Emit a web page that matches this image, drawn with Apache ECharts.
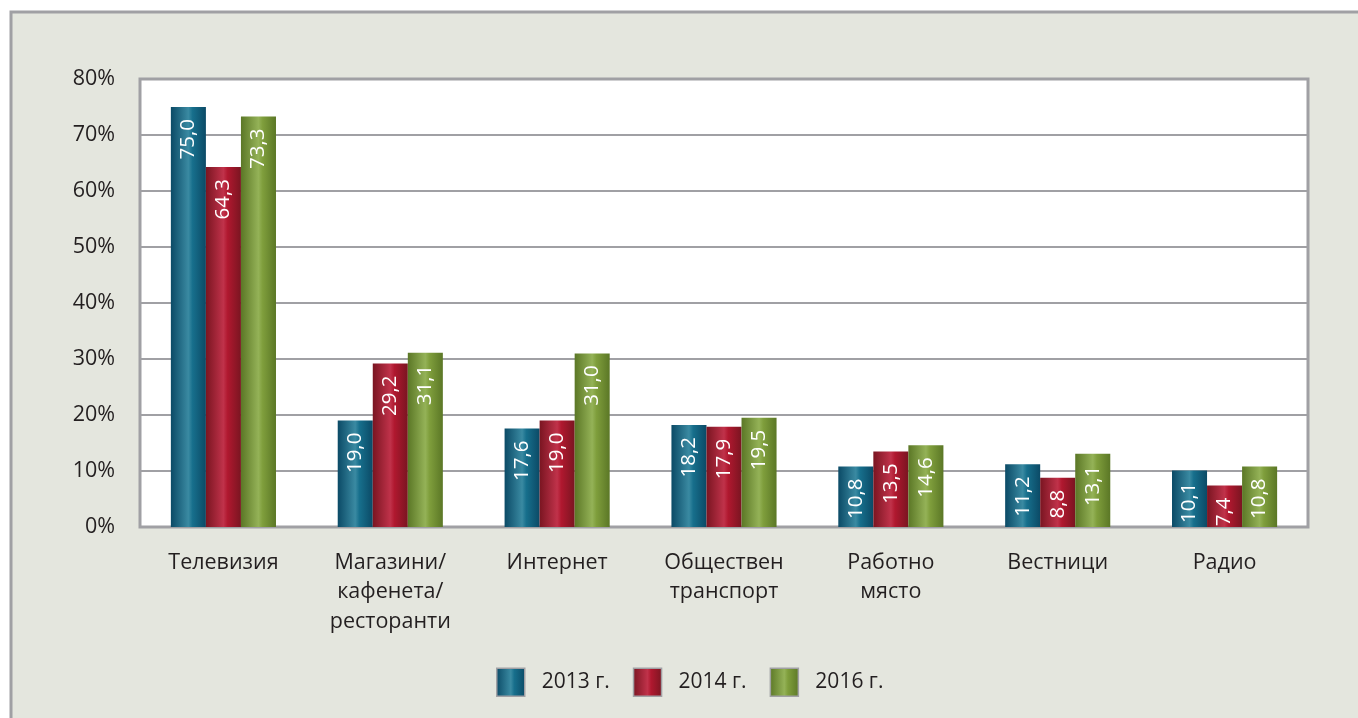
<!DOCTYPE html>
<html>
<head>
<meta charset="utf-8">
<script src="https://cdn.jsdelivr.net/npm/echarts@6/dist/echarts.min.js"></script>
<style>
html,body{margin:0;padding:0;background:#fff;}
#c{width:1358px;height:718px;}
</style>
</head>
<body>
<div id="c"></div>
<script>
const categories = ['Телевизия', 'Магазини/\nкафенета/\nресторанти', 'Интернет', 'Обществен\nтранспорт', 'Работно\nмясто', 'Вестници', 'Радио'];
const seriesNames = ['2013 г.', '2014 г.', '2016 г.'];
const values2013 = [75.0, 19.0, 17.6, 18.2, 10.8, 11.2, 10.1];
const values2014 = [64.3, 29.2, 19.0, 17.9, 13.5, 8.8, 7.4];
const values2016 = [73.3, 31.1, 31.0, 19.5, 14.6, 13.1, 10.8];
const yTicks = [0, 10, 20, 30, 40, 50, 60, 70, 80];

const FONT = '"Open Sans", "Noto Sans", sans-serif';
function grad(edge, mid, light) {
  return new echarts.graphic.LinearGradient(0, 0, 1, 0, [
    {offset: 0, color: edge},
    {offset: 0.5, color: light},
    {offset: 0.62, color: mid},
    {offset: 1, color: edge}
  ]);
}
const colors = [
  grad('#0b4a66', '#176f8c', '#3a8aa2'),
  grad('#7a1521', '#b0182f', '#c0324a'),
  grad('#5b7726', '#7f9e3c', '#94b257')
];
const allValues = [values2013, values2014, values2016];

const chart = echarts.init(document.getElementById('c'), null, {renderer: 'canvas'});
chart.setOption({
  animation: false,
  backgroundColor: '#ffffff',
  graphic: [{
    type: 'rect',
    z: -10,
    silent: true,
    shape: {x: 11, y: 12, width: 1400, height: 760},
    style: {fill: '#e4e6de', stroke: '#a0a0a4', lineWidth: 3}
  }],
  grid: {
    left: 140, right: 50, top: 79, bottom: 191,
    show: true,
    backgroundColor: '#ffffff',
    borderColor: '#a0a0a4',
    borderWidth: 3
  },
  legend: {
    bottom: 16,
    left: 491,
    itemWidth: 28,
    itemHeight: 28,
    itemGap: 23,
    icon: 'rect',
    itemStyle: {borderColor: '#a0a0a4', borderWidth: 1.5},
    textStyle: {fontFamily: FONT, fontSize: 21, color: '#231f20', padding: [0, 0, 0, 12]},
    data: seriesNames
  },
  xAxis: {
    type: 'category',
    data: categories,
    axisTick: {show: false},
    axisLine: {lineStyle: {color: '#a0a0a4', width: 2}},
    axisLabel: {
      interval: 0,
      margin: 21,
      fontFamily: FONT, fontSize: 21.5, color: '#231f20', lineHeight: 29.5
    }
  },
  yAxis: {
    type: 'value',
    min: yTicks[0],
    max: yTicks[yTicks.length - 1],
    interval: 10,
    axisLine: {show: false},
    axisTick: {show: false},
    splitLine: {lineStyle: {color: '#a0a0a4', width: 2}},
    axisLabel: {
      margin: 25,
      fontFamily: FONT, fontSize: 21.5, color: '#231f20',
      formatter: v => v + '%'
    }
  },
  series: seriesNames.map((name, i) => ({
    name: name,
    type: 'bar',
    data: allValues[i],
    barGap: '0%',
    barCategoryGap: '37%',
    itemStyle: {color: colors[i]},
    label: {
      show: true,
      position: 'insideTop',
      rotate: 90,
      align: 'right',
      verticalAlign: 'middle',
      distance: 12,
      fontFamily: FONT,
      fontSize: 20.5,
      color: '#ffffff',
      formatter: p => p.value.toFixed(1).replace('.', ',')
    }
  }))
});
</script>
</body>
</html>
